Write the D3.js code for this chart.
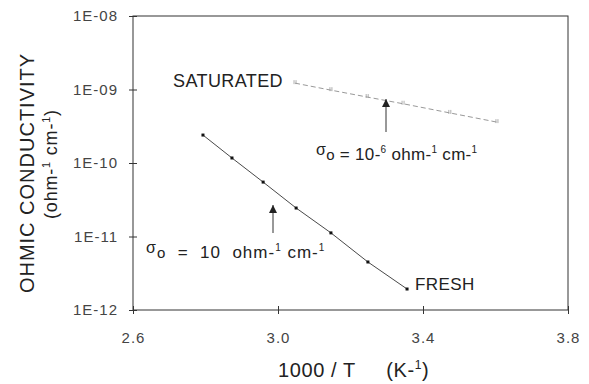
<!DOCTYPE html>
<html>
<head>
<meta charset="utf-8">
<script src="https://cdn.jsdelivr.net/npm/d3@7"></script>
<style>
  html, body { margin: 0; padding: 0; background: #fff; }
  svg { display: block; font-family: "Liberation Sans", Arial, Helvetica, sans-serif; }
</style>
</head>
<body>
<svg id="chart" width="589" height="384"></svg>
<script>
// ---- data ----
const freshX = [2.793, 2.873, 2.959, 3.050, 3.146, 3.248, 3.356];
const freshY = [2.4e-10, 1.17e-10, 5.5e-11, 2.44e-11, 1.12e-11, 4.5e-12, 1.93e-12];
const satX = [3.047, 3.146, 3.246, 3.345, 3.474, 3.604];
const satY = [1.22e-9, 9.8e-10, 7.9e-10, 6.4e-10, 4.8e-10, 3.6e-10];
const xTicks = [2.6, 3.0, 3.4, 3.8];
const xTickLabels = ["2.6", "3.0", "3.4", "3.8"];
const yTicks = [1e-12, 1e-11, 1e-10, 1e-9, 1e-8];
const yTickLabels = ["1E-12", "1E-11", "1E-10", "1E-09", "1E-08"];

// ---- layout ----
const svg = d3.select("#chart");
const L = 133, R = 568, T = 16, B = 310;
const x = d3.scaleLinear().domain([2.6, 3.8]).range([L, R]);
const y = d3.scaleLog().domain([1e-12, 1e-8]).range([B, T]);

const ink = "#222";
const axisInk = "#333";

// frame
svg.append("rect").attr("x", L).attr("y", T).attr("width", R - L).attr("height", B - T)
  .attr("fill", "none").attr("stroke", axisInk).attr("stroke-width", 1);

// y axis
const yAxis = d3.axisLeft(y).tickValues(yTicks)
  .tickFormat((d, i) => yTickLabels[i]).tickSize(4).tickPadding(11);
const gy = svg.append("g").attr("transform", `translate(${L},0)`).call(yAxis);
gy.select(".domain").remove();
gy.selectAll(".tick line").attr("x1", 4).attr("stroke", axisInk);
gy.selectAll(".tick text").attr("font-size", 15).attr("fill", "#444")
  .attr("letter-spacing", 1)
  .attr("font-family", "Liberation Sans, Arial, sans-serif");

// x axis
const xAxis = d3.axisBottom(x).tickValues(xTicks)
  .tickFormat((d, i) => xTickLabels[i]).tickSize(4).tickPadding(18);
const gx = svg.append("g").attr("transform", `translate(0,${B})`).call(xAxis);
gx.select(".domain").remove();
gx.selectAll(".tick line").attr("y1", -4).attr("stroke", axisInk);
gx.selectAll(".tick text").attr("font-size", 15).attr("fill", "#444")
  .attr("letter-spacing", 1)
  .attr("font-family", "Liberation Sans, Arial, sans-serif");

// axis titles
svg.append("text").attr("transform", "translate(34,173) rotate(-90)")
  .attr("text-anchor", "middle").attr("font-size", 20).attr("fill", ink)
  .attr("letter-spacing", 1).text("OHMIC CONDUCTIVITY");
const yt2 = svg.append("text").attr("transform", "translate(57,164) rotate(-90)")
  .attr("text-anchor", "middle").attr("font-size", 18).attr("fill", ink)
  .attr("letter-spacing", 0.8);
yt2.append("tspan").text("(ohm-");
yt2.append("tspan").attr("font-size", 11).attr("dy", -7).text("1");
yt2.append("tspan").attr("dy", 7).text(" cm-");
yt2.append("tspan").attr("font-size", 11).attr("dy", -7).text("1");
yt2.append("tspan").attr("dy", 7).text(")");

const xt = svg.append("text").attr("x", 278).attr("y", 377)
  .attr("font-size", 20).attr("fill", ink).attr("xml:space", "preserve")
  .attr("letter-spacing", 0.6);
xt.append("tspan").text("1000 / T     (K-");
xt.append("tspan").attr("font-size", 12).attr("dy", -8).text("1");
xt.append("tspan").attr("dy", 8).text(")");

// ---- series ----
const line = d3.line().x(d => x(d[0])).y(d => y(d[1]));
const fresh = freshX.map((v, i) => [v, freshY[i]]);
const sat = satX.map((v, i) => [v, satY[i]]);

svg.append("path").datum(fresh).attr("d", line)
  .attr("fill", "none").attr("stroke", "#333").attr("stroke-width", 0.9);
svg.selectAll(".fm").data(fresh).enter().append("rect")
  .attr("x", d => x(d[0]) - 1.5).attr("y", d => y(d[1]) - 1.5)
  .attr("width", 3).attr("height", 3).attr("fill", "#111");

svg.append("path").datum(sat).attr("d", line)
  .attr("fill", "none").attr("stroke", "#999").attr("stroke-width", 1)
  .attr("stroke-dasharray", "5,3");
svg.selectAll(".sm").data(sat).enter().append("path")
  .attr("d", d => `M${x(d[0]) - 1},${y(d[1]) - 3}v4M${x(d[0]) + 1},${y(d[1]) - 3}v4`)
  .attr("stroke", "#999").attr("stroke-width", 0.8);

// ---- labels ----
svg.append("text").attr("x", x(satX[0]) - 12).attr("y", y(satY[0]) + 4)
  .attr("text-anchor", "end").attr("font-size", 18).attr("fill", ink)
  .attr("letter-spacing", 0.4).text("SATURATED");
svg.append("text").attr("x", x(freshX[6]) + 8).attr("y", y(freshY[6]) + 1)
  .attr("font-size", 17).attr("fill", ink).attr("letter-spacing", 0.4).text("FRESH");

// annotations
function sigmaLabel(x0, y0, exp, ls) {
  const t = svg.append("text").attr("x", x0).attr("y", y0)
    .attr("font-size", 17).attr("fill", ink).attr("xml:space", "preserve")
    .attr("letter-spacing", ls);
  t.append("tspan").attr("font-size", 16).attr("dy", -5).text("σ");
  t.append("tspan").attr("font-size", 15).attr("dy", 5).text("o");
  if (exp) {
    t.append("tspan").text(" = 10-");
    t.append("tspan").attr("font-size", 10).attr("dy", -7).text(exp);
    t.append("tspan").attr("dy", 7).text(" ohm-");
  } else {
    t.append("tspan").text("  =  10  ohm-");
  }
  t.append("tspan").attr("font-size", 10).attr("dy", -7).text("1");
  t.append("tspan").attr("dy", 7).text(" cm-");
  t.append("tspan").attr("font-size", 10).attr("dy", -7).text("1");
}
sigmaLabel(146, 258, null, 1);
sigmaLabel(316, 160, "6", 0.3);

const defs = svg.append("defs");
defs.append("marker").attr("id", "ah").attr("viewBox", "0 0 10 10")
  .attr("refX", 10).attr("refY", 5).attr("markerWidth", 8).attr("markerHeight", 8)
  .attr("markerUnits", "userSpaceOnUse").attr("orient", "auto")
  .append("path").attr("d", "M0,0L10,5L0,10Z").attr("fill", "#222");
svg.append("line").attr("x1", 273).attr("y1", 233).attr("x2", 273).attr("y2", 205)
  .attr("stroke", "#333").attr("stroke-width", 1).attr("marker-end", "url(#ah)");
svg.append("line").attr("x1", 386).attr("y1", 132).attr("x2", 386).attr("y2", 99)
  .attr("stroke", "#333").attr("stroke-width", 1).attr("marker-end", "url(#ah)");
</script>
</body>
</html>
